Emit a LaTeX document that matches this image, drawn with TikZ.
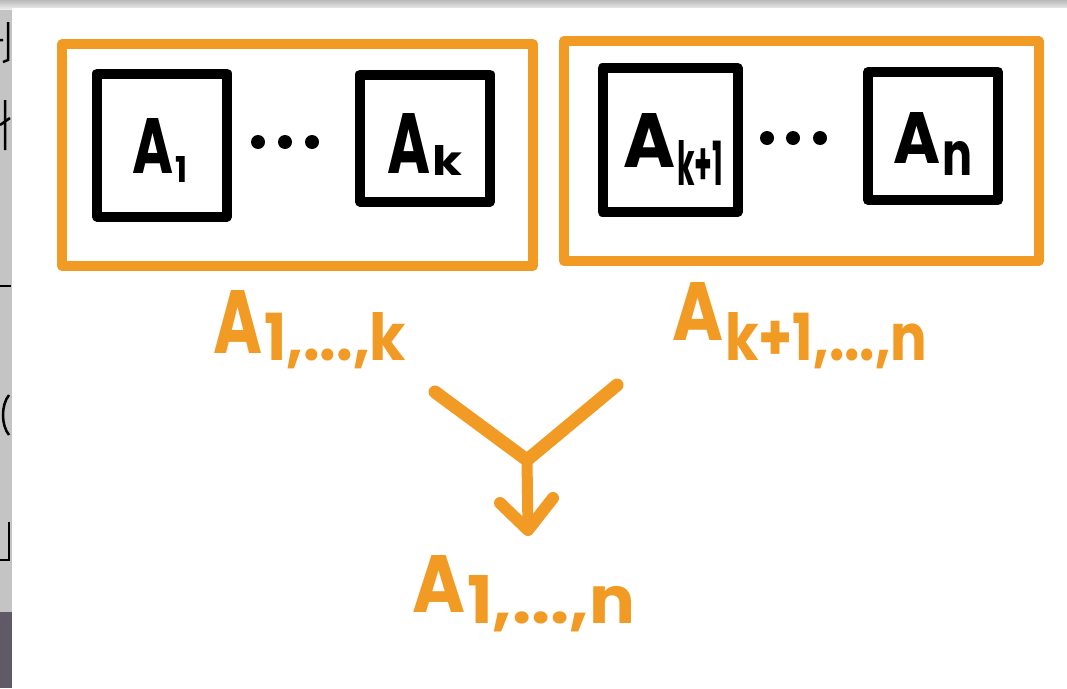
\documentclass[tikz,border=0pt]{standalone}
\usepackage{fontspec}
\setmainfont{Poppins}
\usepackage{graphicx}
\definecolor{hworange}{RGB}{241,154,36}
\definecolor{stripgray}{RGB}{196,196,196}
\definecolor{stripdark}{RGB}{95,90,102}
\newcommand{\hwlab}[6]{\resizebox{#1pt}{#2pt}{\bfseries A}\kern2pt\raisebox{-#5pt}{\resizebox{#3pt}{#4pt}{\bfseries #6}}}
\begin{document}
\begin{tikzpicture}[x=1pt,y=-1pt,
 obox/.style={draw=hworange,line width=9.5pt,rectangle,inner sep=0pt,line join=round},
 kbox/.style={draw=black,line width=10pt,rectangle,inner sep=0pt,line join=round},
 dotc/.style={circle,fill=black,inner sep=0pt,minimum size=14pt},
 klab/.style={anchor=base west,inner sep=0pt,text=black},
 olab/.style={anchor=base west,inner sep=0pt,text=hworange},
 oline/.style={draw=hworange,line width=13pt,line cap=round,line join=round},
 frag/.style={draw=black,line width=2.5pt}]
\useasboundingbox (0,0) rectangle (1067,688);
% screenshot background
\fill[stripgray] (0,0) rectangle (1067,688);
\shade[top color=gray!55,bottom color=gray!15] (0,0) rectangle (1067,9);
\fill[stripdark] (0,612) rectangle (12,688);
\fill[white] (12,8) rectangle (1067,688);
% cut-off glyph fragments at the left edge
\draw[frag] (0,40) -- (3,40) (8,22) -- (8,60) -- (3,62);
\draw[frag] (5,100) -- (5,150) (0,125) -- (10,118);
\draw[frag] (0,286) -- (11,286);
\draw[frag] (9,395) .. controls (1,405) and (1,425) .. (9,435);
\draw[frag] (9,522) -- (9,560) -- (0,560);
% groups
\node[obox,minimum width=471pt,minimum height=222pt] (g1) at (297.5,155) {};
\node[obox,minimum width=475pt,minimum height=220pt] (g2) at (801.5,151) {};
% matrices
\node[kbox,minimum width=130pt,minimum height=143pt] (b1) at (162,145) {};
\node[kbox,minimum width=130pt,minimum height=127pt] (bk) at (425,138) {};
\node[kbox,minimum width=135pt,minimum height=144pt] (bk1) at (670,140) {};
\node[kbox,minimum width=130pt,minimum height=128pt] (bn) at (933,136) {};
% dots
\node[dotc] (d1) at (258,142) {};
\node[dotc] (d2) at (285,142) {};
\node[dotc] (d3) at (312,142) {};
\node[dotc] (d4) at (767,138) {};
\node[dotc] (d5) at (793,138) {};
\node[dotc] (d6) at (820,138) {};
% labels inside boxes
\node[klab] (t1) at (132,173) {\hwlab{41}{55}{12}{26}{9}{1}};
\node[klab] (tk) at (387,173) {\hwlab{43}{60}{30}{30}{2}{k}};
\node[klab] (tk1) at (623,167) {\hwlab{52}{54}{46}{45}{18}{k+1}};
\node[klab] (tn) at (893,163) {\hwlab{47}{51}{30}{34}{12}{n}};
% orange labels
\node[olab] (L1) at (213,353) {\hwlab{49}{63}{142}{48}{7}{1,...,k}};
\node[olab] (L2) at (672,340) {\hwlab{51}{58}{202}{48}{20}{k+1,...,n}};
\node[olab] (L3) at (412,612) {\hwlab{53}{57}{168}{48}{11}{1,...,n}};
% merge arrow
\coordinate (vl) at (435,392);
\coordinate (vr) at (617,385);
\coordinate (vx) at (527,460);
\coordinate (tip) at (528,530);
\coordinate (wl) at (500,503);
\coordinate (wr) at (553,498);
\draw[oline] (vl) -- (vx) -- (vr);
\draw[oline,line width=11pt] (vx) -- (tip);
\draw[oline,line width=12pt] (wl) -- (tip) -- (wr);
\end{tikzpicture}
\end{document}
